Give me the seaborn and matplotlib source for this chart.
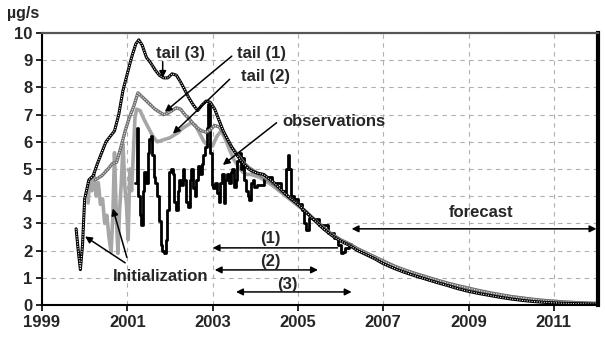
import matplotlib
matplotlib.use("Agg")
import matplotlib.pyplot as plt
import seaborn as sns
import pandas as pd

# ---- series: (decimal year, emission rate in µg/s) ----
tail3_year = [1999.80, 1999.85, 1999.90, 1999.95, 2000.00, 2000.10, 2000.20, 2000.30,
              2000.40, 2000.50, 2000.60, 2000.70, 2000.80, 2000.90, 2001.00, 2001.10,
              2001.20, 2001.27, 2001.35, 2001.45, 2001.55, 2001.65, 2001.75, 2001.85,
              2001.95, 2002.05, 2002.15, 2002.25, 2002.35, 2002.45, 2002.55, 2002.65,
              2002.75, 2002.85, 2002.95, 2003.05, 2003.15, 2003.25, 2003.35, 2003.45,
              2003.55, 2003.65, 2003.75, 2003.85, 2003.95, 2004.05, 2004.20, 2004.40,
              2004.60, 2004.80, 2005.00, 2005.20, 2005.40, 2005.60, 2005.80, 2006.00,
              2006.20, 2006.40, 2006.60, 2006.80, 2007.00, 2007.25, 2007.50, 2007.75,
              2008.00, 2008.25, 2008.50, 2008.75, 2009.00, 2009.25, 2009.50, 2009.75,
              2010.00, 2010.25, 2010.50, 2010.75, 2011.00, 2011.25, 2011.50, 2011.75,
              2012.00]
tail3_rate = [2.8, 2.0, 1.3, 2.2, 3.9, 4.6, 4.75, 5.2,
              5.6, 6.0, 6.2, 6.4, 7.0, 7.9, 8.5, 9.1,
              9.6, 9.75, 9.55, 9.1, 8.9, 8.65, 8.45, 8.35,
              8.35, 8.5, 8.45, 8.2, 7.9, 7.6, 7.35, 7.15,
              7.35, 7.5, 7.45, 7.2, 6.8, 6.4, 6.1, 5.8,
              5.55, 5.35, 5.15, 5.0, 4.9, 4.85, 4.8, 4.55,
              4.25, 3.95, 3.7, 3.4, 3.1, 2.8, 2.55, 2.35,
              2.2, 2.0, 1.85, 1.7, 1.52, 1.35, 1.2, 1.07,
              0.95, 0.83, 0.72, 0.6, 0.5, 0.42, 0.35, 0.28,
              0.22, 0.17, 0.13, 0.10, 0.08, 0.06, 0.05, 0.04,
              0.03]

tail1_year = [2000.25, 2000.40, 2000.55, 2000.65, 2000.75, 2000.85, 2000.95, 2001.05,
              2001.15, 2001.25, 2001.35, 2001.45, 2001.55, 2001.65, 2001.75, 2001.85,
              2001.95, 2002.05, 2002.15, 2002.25, 2002.35, 2002.45, 2002.55, 2002.65,
              2002.75, 2002.85, 2002.95, 2003.05, 2003.15, 2003.25, 2003.35, 2003.45,
              2003.55, 2003.65, 2003.75, 2003.85, 2003.95, 2004.05, 2004.20, 2004.40,
              2004.60, 2004.80, 2005.00, 2005.20, 2005.40, 2005.60, 2005.80, 2006.00,
              2006.20, 2006.40, 2006.60, 2006.80, 2007.00, 2007.25, 2007.50, 2007.75,
              2008.00, 2008.25, 2008.50, 2008.75, 2009.00, 2009.25, 2009.50, 2009.75,
              2010.00, 2010.25, 2010.50, 2010.75, 2011.00, 2011.25, 2011.50, 2011.75,
              2012.00]
tail1_rate = [4.6, 4.75, 5.0, 5.2, 5.25, 5.8, 6.4, 6.9,
              7.3, 7.8, 7.65, 7.5, 7.35, 7.2, 7.1, 7.0,
              7.05, 7.15, 7.25, 7.2, 7.0, 6.85, 6.65, 6.5,
              6.4, 6.35, 6.45, 6.6, 6.55, 6.35, 6.05, 5.8,
              5.6, 5.4, 5.2, 5.05, 4.95, 4.85, 4.7, 4.5,
              4.2, 3.95, 3.7, 3.42, 3.12, 2.85, 2.6, 2.4,
              2.25, 2.07, 1.92, 1.77, 1.62, 1.44, 1.29, 1.16,
              1.04, 0.92, 0.81, 0.71, 0.62, 0.53, 0.45, 0.38,
              0.31, 0.26, 0.21, 0.17, 0.14, 0.11, 0.09, 0.07,
              0.06]

tail2_year = [2000.08, 2000.12, 2000.17, 2000.22, 2000.27, 2000.32, 2000.37, 2000.42,
              2000.47, 2000.52, 2000.57, 2000.62, 2000.66, 2000.70, 2000.74, 2000.78,
              2000.82, 2000.86, 2000.90, 2000.94, 2000.98, 2001.02, 2001.06, 2001.10,
              2001.14, 2001.18, 2001.22, 2001.30, 2001.40, 2001.50, 2001.60, 2001.70,
              2001.80, 2001.90, 2002.00, 2002.10, 2002.20, 2002.30, 2002.40, 2002.50,
              2002.60, 2002.70, 2002.80, 2002.90, 2003.00, 2003.10, 2003.20, 2003.30,
              2003.40, 2003.50, 2003.60, 2003.70, 2003.80, 2003.90, 2004.00, 2004.10,
              2004.20, 2004.40, 2004.60, 2004.80, 2005.00, 2005.20, 2005.40, 2005.60,
              2005.80, 2006.00, 2006.20, 2006.40, 2006.60, 2006.80, 2007.00, 2007.25,
              2007.50, 2007.75, 2008.00, 2008.25, 2008.50, 2008.75, 2009.00, 2009.25,
              2009.50, 2009.75, 2010.00, 2010.25, 2010.50, 2010.75, 2011.00, 2011.25,
              2011.50, 2011.75, 2012.00]
tail2_rate = [3.75, 4.6, 4.2, 4.8, 4.0, 4.5, 3.7, 3.9,
              3.0, 3.3, 2.5, 1.95, 3.2, 5.6, 3.4, 1.9,
              3.5, 4.5, 5.9, 4.4, 3.7, 2.4, 5.0, 4.2,
              5.5, 6.9, 7.2, 7.15, 6.8, 6.5, 6.2, 6.0,
              6.05, 6.1, 6.15, 6.25, 6.35, 6.5, 6.6, 6.7,
              6.6, 6.3, 6.0, 5.85, 5.85, 6.2, 6.4, 6.1,
              5.7, 5.35, 5.1, 4.9, 4.8, 4.8, 4.75, 4.7,
              4.6, 4.4, 4.15, 3.9, 3.65, 3.4, 3.1, 2.83,
              2.58, 2.38, 2.23, 2.05, 1.9, 1.75, 1.6, 1.42,
              1.27, 1.14, 1.02, 0.9, 0.79, 0.69, 0.6, 0.51,
              0.43, 0.36, 0.30, 0.25, 0.20, 0.16, 0.13, 0.10,
              0.08, 0.07, 0.05]

obs_year = [2001.18, 2001.22, 2001.26, 2001.30, 2001.33, 2001.36, 2001.40, 2001.44,
            2001.48, 2001.52, 2001.55, 2001.58, 2001.62, 2001.66, 2001.70, 2001.74,
            2001.78, 2001.82, 2001.86, 2001.90, 2001.93, 2001.97, 2002.02, 2002.06,
            2002.10, 2002.14, 2002.18, 2002.22, 2002.26, 2002.30, 2002.34, 2002.38,
            2002.42, 2002.46, 2002.50, 2002.54, 2002.58, 2002.62, 2002.66, 2002.70,
            2002.74, 2002.78, 2002.82, 2002.86, 2002.90, 2002.94, 2002.98, 2003.02,
            2003.06, 2003.10, 2003.14, 2003.18, 2003.22, 2003.26, 2003.30, 2003.34,
            2003.38, 2003.42, 2003.46, 2003.50, 2003.54, 2003.58, 2003.62, 2003.66,
            2003.70, 2003.74, 2003.78, 2003.82, 2003.86, 2003.90, 2003.94, 2003.98,
            2004.03, 2004.20, 2004.40, 2004.60, 2004.70, 2004.73, 2004.76, 2004.80,
            2004.84, 2004.90, 2005.00, 2005.10, 2005.15, 2005.20, 2005.25, 2005.35,
            2005.50, 2005.70, 2005.85, 2005.95, 2006.00, 2006.05, 2006.10, 2006.20,
            2006.25]
obs_rate = [4.5, 6.5, 4.0, 3.3, 2.95, 4.2, 4.9, 4.5,
            5.6, 6.1, 6.2, 5.5, 4.7, 4.5, 4.0, 3.1,
            2.2, 2.0, 1.9, 2.4, 3.5, 4.9, 5.0, 4.8,
            3.8, 3.5, 4.2, 4.6, 4.4, 5.0, 4.6, 3.8,
            3.6, 4.6, 5.0, 4.3, 4.0, 4.6, 5.1, 4.8,
            5.2, 5.5, 5.8, 6.5, 7.4, 5.6, 4.4, 4.3,
            4.5, 4.1, 3.8, 4.5, 4.8, 3.75, 4.6, 4.8,
            4.5, 4.9, 5.0, 4.35, 4.6, 5.3, 5.6, 5.0,
            5.4, 4.6, 4.2, 4.0, 3.85, 4.5, 4.6, 4.35,
            4.4, 4.7, 4.5, 4.2, 4.1, 5.0, 5.5, 5.0,
            4.0, 3.9, 3.7, 3.5, 3.0, 2.75, 3.2, 3.15,
            2.95, 2.65, 2.45, 2.2, 1.9, 1.95, 2.1, 2.2,
            2.25]

x_ticks = [1999, 2001, 2003, 2005, 2007, 2009, 2011]
y_ticks = list(range(0, 11))

# ---- figure ----
sns.set_theme(style="white")
plt.rcParams["font.family"] = ["Liberation Sans", "DejaVu Sans"]
plt.rcParams["font.weight"] = "bold"

fig = plt.figure(figsize=(6.05, 3.44), dpi=100)
ax = fig.add_axes([0.0694, 0.1134, 0.9186, 0.7906])

tail2 = pd.DataFrame({"year": tail2_year, "rate": tail2_rate})
obs = pd.DataFrame({"year": obs_year, "rate": obs_rate})
tail1 = pd.DataFrame({"year": tail1_year, "rate": tail1_rate})
tail3 = pd.DataFrame({"year": tail3_year, "rate": tail3_rate})

# tail (2): thick light-grey line
sns.lineplot(data=tail2, x="year", y="rate", ax=ax, color="#a6a6a6",
             linewidth=2.6, estimator=None, sort=False)
# observations: thick black stepped line
sns.lineplot(data=obs, x="year", y="rate", ax=ax, color="black",
             linewidth=2.0, estimator=None, sort=False, drawstyle="steps-post")
# tail (1): dark grey beaded line
sns.lineplot(data=tail1, x="year", y="rate", ax=ax, color="#6e6e6e",
             linewidth=2.4, estimator=None, sort=False)
sns.lineplot(data=tail1, x="year", y="rate", ax=ax, color="#e6e6e6",
             linewidth=0.9, estimator=None, sort=False)
ax.lines[-1].set_dashes([0.9, 1.1])
# tail (3): black beaded line
sns.lineplot(data=tail3, x="year", y="rate", ax=ax, color="black",
             linewidth=2.2, estimator=None, sort=False)
sns.lineplot(data=tail3, x="year", y="rate", ax=ax, color="white",
             linewidth=0.8, estimator=None, sort=False)
ax.lines[-1].set_dashes([0.9, 1.3])

# ---- axes styling ----
ax.set_xlim(1999, 2012.03)
ax.set_ylim(0, 10)
ax.set_xticks(x_ticks)
ax.set_yticks(y_ticks)
ax.set_xticklabels([str(t) for t in x_ticks], fontsize=12, fontweight="bold")
ax.set_yticklabels([str(t) for t in y_ticks], fontsize=12, fontweight="bold")
ax.set_xlabel("")
ax.set_ylabel("")
ax.grid(True, color="#b0b0b0", linestyle=(0, (4, 4)), linewidth=0.8)
ax.tick_params(axis="both", which="major", direction="out", length=4, width=1.2,
               color="black", pad=3, bottom=True, left=True)
for side in ["left", "bottom"]:
    ax.spines[side].set_color("black")
    ax.spines[side].set_linewidth(1.5)
ax.spines["top"].set_color("#555555")
ax.spines["top"].set_linewidth(1.6)
ax.spines["right"].set_color("black")
ax.spines["right"].set_linewidth(3.0)

fig.text(0.012, 0.962, "µg/s", fontsize=11.5, fontweight="bold", va="center", ha="left")

# ---- annotations ----
txt = dict(fontsize=12, fontweight="bold", ha="center", va="center")
one = dict(arrowstyle="-|>", color="black", lw=1.1, mutation_scale=10, shrinkA=0, shrinkB=0)
two = dict(arrowstyle="<|-|>", color="black", lw=1.1, mutation_scale=10, shrinkA=0, shrinkB=0)

ax.text(2002.25, 9.25, "tail (3)", **txt)
ax.annotate("", xy=(2001.83, 8.35), xytext=(2001.83, 8.95), arrowprops=one)

ax.text(2004.15, 9.25, "tail (1)", **txt)
ax.annotate("", xy=(2001.88, 7.1), xytext=(2003.45, 9.15), arrowprops=one)

ax.text(2004.25, 8.4, "tail (2)", **txt)
ax.annotate("", xy=(2002.07, 6.3), xytext=(2003.4, 8.3), arrowprops=one)

ax.text(2005.85, 6.75, "observations", **txt)
ax.annotate("", xy=(2003.24, 5.15), xytext=(2004.5, 6.7), arrowprops=one)

ax.text(2001.77, 1.03, "Initialization", **txt)
ax.annotate("", xy=(2000.01, 2.52), xytext=(2000.95, 1.55), arrowprops=one)
ax.annotate("", xy=(2000.66, 3.55), xytext=(2000.99, 1.75), arrowprops=one)

ax.annotate("", xy=(2003.0, 2.1), xytext=(2005.93, 2.1), arrowprops=one)
ax.text(2004.35, 2.45, "(1)", **txt)

ax.annotate("", xy=(2003.05, 1.29), xytext=(2005.47, 1.29), arrowprops=two)
ax.text(2004.35, 1.6, "(2)", **txt)

ax.annotate("", xy=(2003.55, 0.48), xytext=(2006.26, 0.48), arrowprops=two)
ax.text(2004.75, 0.75, "(3)", **txt)

ax.annotate("", xy=(2006.26, 2.8), xytext=(2012.0, 2.8), arrowprops=two)
ax.text(2009.3, 3.4, "forecast", **txt)

fig.savefig("out.png", dpi=100)
